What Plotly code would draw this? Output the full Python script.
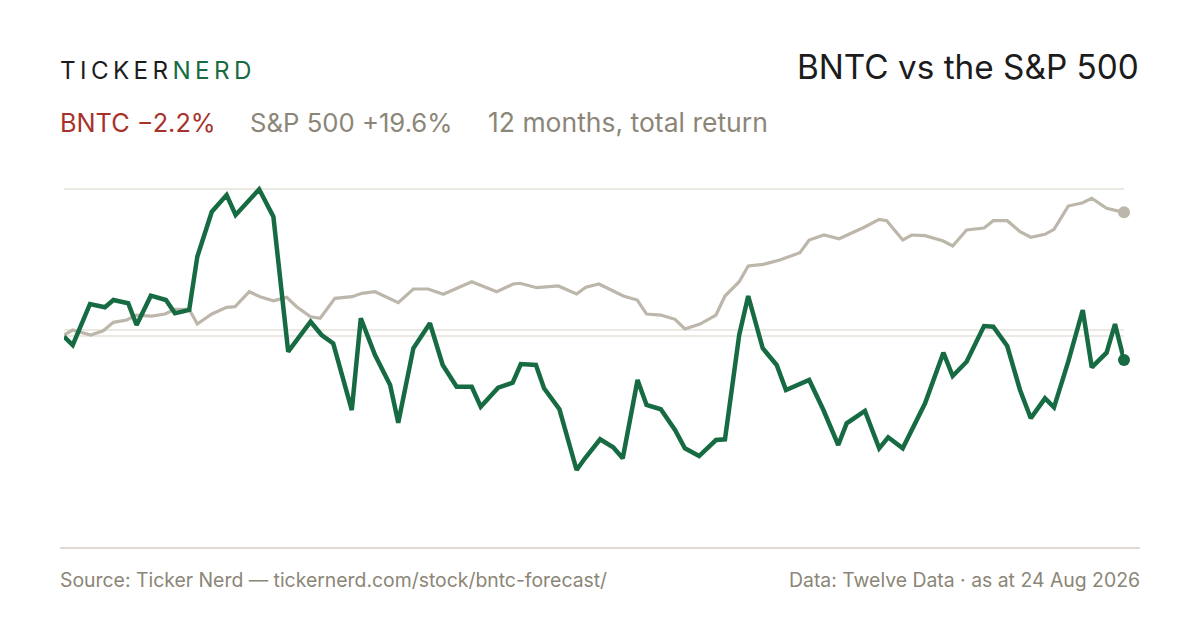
import plotly.graph_objects as go

# ---- data ----
# day offsets from 24 Aug 2025, returns in %
bntc_day = [0, 3.0, 8.95, 14.1, 17.0, 22.1, 25.0, 29.9, 35.1, 38.2, 43.1, 45.9, 50.9, 56.0, 59.1,
            67.2, 72.1, 77.2, 84.9, 88.7, 92.7, 99.1, 102.2, 107.1, 112.3, 115.1, 120.3, 126.0,
            130.4, 135.2, 140.4, 143.5, 149.5, 154.5, 157.3, 162.5, 165.3, 170.6, 176.5, 179.4,
            184.6, 189.1, 192.4, 197.5, 200.6, 205.5, 210.4, 213.8, 218.7, 224.5, 227.6, 232.5,
            235.6, 240.6, 245.4, 248.6, 256.6, 261.5, 266.6, 269.5, 275.8, 280.7, 283.8, 288.8,
            296.5, 302.8, 306.0, 310.8, 316.8, 320.0, 324.8, 329.2, 332.9, 337.8, 340.9, 345.8,
            350.8, 353.9, 359.0, 361.9, 365.0]
bntc_ret = [-0.11, -1.43, 5.08, 4.56, 5.71, 5.19, 1.75, 6.40, 5.71, 3.60, 4.13, 12.59, 19.73, 22.38,
            19.21, 23.29, 18.94, -2.49, 2.27, 0.16, -1.16, -11.75, 2.81, -3.02, -7.78, -13.76,
            -1.95, 2.02, -4.60, -8.05, -8.05, -11.22, -8.21, -7.41, -4.44, -4.60, -8.30, -11.63,
            -21.27, -19.41, -16.40, -17.67, -19.41, -6.98, -10.95, -11.63, -14.92, -17.83, -19.05,
            -16.51, -16.40, 0.16, 6.35, -1.95, -4.60, -8.57, -6.98, -11.75, -17.30, -13.86, -11.90,
            -17.83, -16.08, -17.83, -10.68, -2.65, -6.35, -4.08, 1.59, 1.48, -1.59, -8.57, -13.06,
            -9.89, -11.32, -4.08, 4.13, -4.97, -2.65, 1.90, -3.81]

spx_day = [0, 3.0, 9.2, 13.5, 17.0, 21.6, 25.0, 30.2, 34.8, 38.2, 43.1, 45.9, 50.9, 56.0, 58.9,
           63.8, 67.5, 72.1, 76.7, 80.1, 84.9, 88.2, 93.3, 99.2, 102.6, 107.1, 115.1, 120.3,
           125.4, 130.6, 140.4, 149.0, 154.7, 157.0, 162.8, 170.2, 176.5, 179.7, 184.2, 192.6,
           197.4, 200.6, 205.5, 210.4, 213.8, 219.0, 224.5, 227.6, 232.5, 235.6, 240.8, 246.5,
           253.4, 256.6, 261.7, 266.9, 275.2, 280.7, 283.3, 288.8, 291.9, 296.5, 302.8, 306.0,
           310.8, 316.8, 320.0, 324.8, 329.2, 332.9, 337.8, 340.9, 345.8, 350.8, 353.9, 359.0,
           365.0]
spx_ret = [0.16, 0.95, 0.16, 0.84, 2.17, 2.54, 3.33, 3.17, 3.49, 4.24, 4.24, 1.90, 3.49, 4.56,
           4.65, 7.03, 6.24, 5.60, 6.14, 4.65, 3.06, 2.81, 5.98, 6.24, 6.78, 7.03, 5.29, 7.46,
           7.46, 6.62, 8.62, 7.03, 8.25, 8.37, 7.67, 7.94, 6.67, 7.73, 8.25, 6.35, 5.71, 3.49,
           3.33, 2.65, 1.11, 1.90, 3.33, 6.35, 8.62, 11.11, 11.38, 12.06, 13.22, 15.24, 16.03,
           15.44, 17.19, 18.52, 18.30, 15.24, 16.03, 15.92, 15.08, 14.29, 16.83, 17.14, 18.30,
           18.30, 16.56, 15.67, 16.14, 16.94, 20.63, 21.16, 21.86, 20.27, 19.63]

grid_vals = [0, 0.95, 23.29]

title_text = "BNTC vs the S&P 500"
bntc_label = "BNTC \u22122.2%"
spx_label = "S&P 500 +19.6%"
period_label = "12 months, total return"
source_text = "Source: Ticker Nerd \u2014 tickernerd.com/stock/bntc-forecast/"
data_text = "Data: Twelve Data \u00b7 as at 24 Aug 2026"

# ---- style ----
GREEN = "#176b43"
SPX = "#bdb6aa"
RED = "#a8322b"
MUTED = "#8b8677"
DARK = "#1c1c1c"
GRID = "#ece9e2"
FONT = "Inter"

W, H = 1200, 630
L, R, T, B = 64, 76, 170, 130


def px2x(px):
    return (px - L) / (W - L - R)


def py2y(py):
    return (H - B - py) / (H - T - B)


fig = go.Figure()
fig.add_trace(go.Scatter(x=spx_day, y=spx_ret, mode="lines",
                         line=dict(color=SPX, width=3.2), hoverinfo="skip"))
fig.add_trace(go.Scatter(x=bntc_day, y=bntc_ret, mode="lines",
                         line=dict(color=GREEN, width=4.5), hoverinfo="skip"))
fig.add_trace(go.Scatter(x=[spx_day[-1]], y=[spx_ret[-1]], mode="markers", cliponaxis=False,
                         marker=dict(color=SPX, size=12), hoverinfo="skip"))
fig.add_trace(go.Scatter(x=[bntc_day[-1]], y=[bntc_ret[-1]], mode="markers", cliponaxis=False,
                         marker=dict(color=GREEN, size=12), hoverinfo="skip"))

fig.update_layout(
    width=W, height=H,
    margin=dict(l=L, r=R, t=T, b=B),
    paper_bgcolor="white", plot_bgcolor="white",
    showlegend=False,
    font=dict(family=FONT),
    xaxis=dict(range=[0, 365], showgrid=False, zeroline=False, showticklabels=False,
               showline=False, ticks=""),
    yaxis=dict(range=[-26.03, 26.35], tickvals=grid_vals, showgrid=True, gridcolor=GRID,
               gridwidth=1.5, zeroline=False, showticklabels=False, showline=False, ticks=""),
)

hs = "\u2009"
brand = hs.join("TICKER") + hs + "<span style='color:%s'>%s</span>" % (GREEN, hs.join("NERD"))

annots = [
    dict(text=brand, x=px2x(60), y=py2y(70), xanchor="left", yanchor="middle",
         font=dict(size=24.2, color=DARK)),
    dict(text=title_text, x=px2x(1139), y=py2y(67), xanchor="right", yanchor="middle",
         font=dict(size=33.3, color=DARK)),
    dict(text=bntc_label, x=px2x(60), y=py2y(122.5), xanchor="left", yanchor="middle",
         font=dict(size=25.3, color=RED)),
    dict(text=spx_label, x=px2x(250), y=py2y(122.5), xanchor="left", yanchor="middle",
         font=dict(size=25.7, color=MUTED)),
    dict(text=period_label, x=px2x(488), y=py2y(122.5), xanchor="left", yanchor="middle",
         font=dict(size=26.5, color=MUTED)),
    dict(text=source_text, x=px2x(60), y=py2y(580), xanchor="left", yanchor="middle",
         font=dict(size=19.4, color=MUTED)),
    dict(text=data_text, x=px2x(1140), y=py2y(580), xanchor="right", yanchor="middle",
         font=dict(size=19.4, color=MUTED)),
]
for a in annots:
    a.update(xref="paper", yref="paper", showarrow=False,
             xshift=-2 if a["xanchor"] == "left" else 2)
    fig.add_annotation(**a)

fig.add_shape(type="line", xref="paper", yref="paper",
              x0=px2x(60), x1=px2x(1140), y0=py2y(548), y1=py2y(548),
              line=dict(color="#dedad1", width=2))

fig.write_html("out.html", config={"displayModeBar": False},
               post_script="document.body.style.margin='0';")
